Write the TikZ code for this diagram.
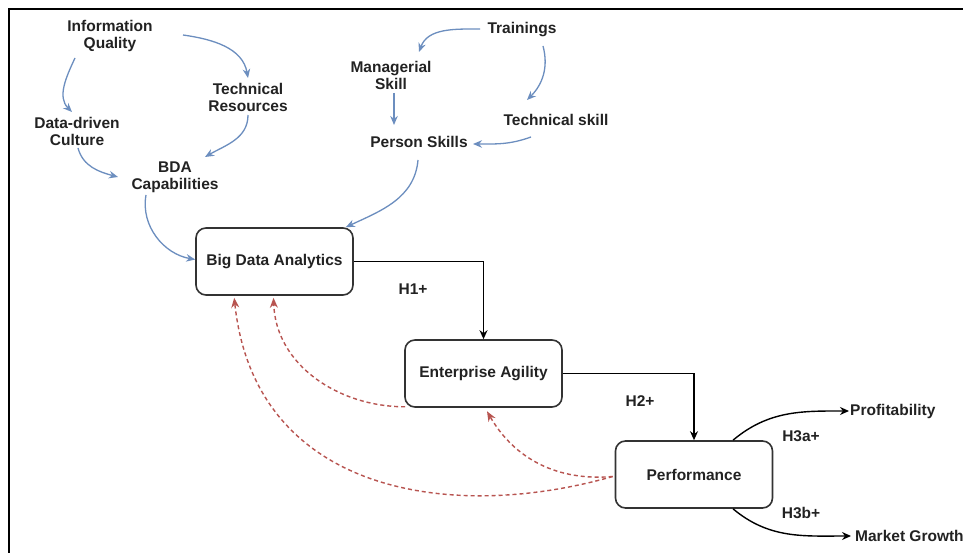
\documentclass[tikz,border=0pt]{standalone}
\usepackage{fontspec}
\setmainfont{Liberation Sans}
\usetikzlibrary{arrows.meta,calc}
\definecolor{flowblue}{HTML}{6C8EBF}
\definecolor{backred}{HTML}{B85450}
\definecolor{ink}{HTML}{222222}
\definecolor{boxline}{HTML}{333333}
\begin{document}
\begin{tikzpicture}[x=1pt,y=1pt,
  lbl/.style={font=\fontsize{15.5}{17}\selectfont\bfseries, text=ink, align=center, inner sep=0pt},
  stage/.style={lbl, draw=boxline, line width=1.6pt, rounded corners=10pt,
                minimum width=157pt, minimum height=67pt},
  feed/.style={flowblue, line width=1.3pt, -{Stealth[length=9pt,width=7.5pt]}},
  link/.style={black, line width=1.4pt, -{Stealth[length=9pt,width=8pt]}},
  back/.style={backred, line width=1.4pt, dash pattern=on 4pt off 3pt,
               -{Stealth[length=10pt,width=8pt]}},
]
\useasboundingbox (0,0) rectangle (963,553);
\fill[white] (0,0) rectangle (963,553);

% outer frame (left and top edges)
\draw[line width=2.5pt, black] (9,0) -- (9,544) -- (963,544);

% antecedent factors
\node[lbl] (iq)  at (110,517) {Information\\Quality};
\node[lbl] (tr)  at (248,456) {Technical\\Resources};
\node[lbl] (dd)  at (77,422)  {Data-driven\\Culture};
\node[lbl] (bda) at (175,376) {BDA\\Capabilities};
\node[lbl] (trn) at (522,523) {Trainings};
\node[lbl] (ms)  at (391,478) {Managerial\\Skill};
\node[lbl] (ts)  at (556,433) {Technical skill};
\node[lbl] (ps)  at (419,411) {Person Skills};

% main constructs
\node[stage] (bdan) at (274.5,291.5) {Big Data Analytics};
\node[stage] (ea)   at (483.5,179.5) {Enterprise Agility};
\node[stage] (perf) at (694,78.5)    {Performance};

% outcomes
\node[lbl, anchor=west] (prof) at (850,142) {Profitability};
\node[lbl, anchor=west] (mg)   at (855,17)  {Market Growth};

% hypothesis labels
\node[lbl] (h1)  at (413,264) {H1+};
\node[lbl] (h2)  at (640,152) {H2+};
\node[lbl] (h3a) at (801,117) {H3a+};
\node[lbl] (h3b) at (801,40)  {H3b+};

% blue feeder arrows
\draw[feed] ($(iq)+(-35,-22)$) to[out=245,in=135] ($(dd)+(-5,19)$);
\draw[feed] ($(iq)+(73,1)$) to[out=-8,in=100] ($(tr)+(0,19)$);
\draw[feed] ($(dd)+(1,-17)$) to[out=-75,in=165] ($(bda)+(-57,0)$);
\draw[feed] ($(tr)+(0,-18)$) to[out=-90,in=30] ($(bda)+(30,20)$);
\draw[feed] ($(bda)+(-29,-18)$) to[out=-100,in=170] ($(bdan.west)+(0,2)$);
\draw[feed] ($(trn)+(-42,1)$) to[out=180,in=70] ($(ms)+(28,23)$);
\draw[feed] ($(trn)+(21,-16)$) to[out=-75,in=45] ($(ts)+(-29,20)$);
\draw[feed] ($(ms)+(3,-18)$) -- ($(ps)+(-25,17)$);
\draw[feed] ($(ts)+(-25,-17)$) to[out=200,in=0] ($(ps)+(54,-2)$);
\draw[feed] ($(ps)+(-1,-18)$) to[out=-95,in=25] ($(bdan.north east)+(-8,0)$);

% hypothesised paths
\draw[link] (bdan.east) -| (ea.north);
\draw[link] (ea.east) -| (perf.north);
\draw[link] ($(perf.north)+(39,0)$) to[out=40,in=180] ($(prof.west)+(-1,0)$);
\draw[link] ($(perf.south)+(39,0)$) to[out=-40,in=180] ($(mg.west)+(-4,0)$);

% feedback loops
\draw[back] ($(ea.south west)+(1,1)$) to[out=180,in=-88] ($(bdan.south)+(-1,-2)$);
\draw[back] ($(perf.west)+(-2,-2)$) .. controls (450,30) and (255,60) .. ($(bdan.south west)+(39,-2)$);
\draw[back] ($(perf.west)+(-2,-2)$) to[out=185,in=-60] ($(ea.south)+(3.5,-3.5)$);
\end{tikzpicture}
\end{document}
